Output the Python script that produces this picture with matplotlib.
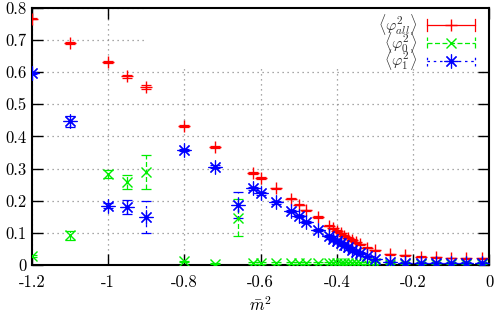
import matplotlib
matplotlib.use("Agg")
import matplotlib.pyplot as plt
from matplotlib.lines import Line2D
from matplotlib.legend_handler import HandlerBase
from matplotlib.patches import Rectangle

plt.rcParams['font.family'] = ['cmr10', 'DejaVu Serif']
plt.rcParams['mathtext.fontset'] = 'cm'
plt.rcParams['axes.unicode_minus'] = False
plt.rcParams['axes.formatter.use_mathtext'] = False

# ---- data ----
x_all = [-1.2, -1.1, -1.0, -0.95, -0.9, -0.8, -0.72, -0.62, -0.6, -0.56, -0.52, -0.5, -0.48,
         -0.45, -0.42, -0.41, -0.40, -0.39, -0.38, -0.37, -0.36, -0.35, -0.34, -0.32, -0.30,
         -0.26, -0.22, -0.18, -0.14, -0.10, -0.06, -0.02]
y_all = [0.767, 0.691, 0.631, 0.587, 0.554, 0.433, 0.368, 0.285, 0.271, 0.239, 0.206, 0.188, 0.170,
         0.149, 0.122, 0.114, 0.106, 0.099, 0.091, 0.085, 0.078, 0.071, 0.064, 0.054, 0.046,
         0.033, 0.030, 0.026, 0.024, 0.022, 0.021, 0.021]
e_all = [0.003, 0.004, 0.003, 0.004, 0.007, 0.003, 0.003, 0.003, 0.003, 0.002, 0.002, 0.002, 0.002,
         0.002, 0.002, 0.002, 0.002, 0.002, 0.002, 0.002, 0.002, 0.002, 0.002, 0.002, 0.002,
         0.001, 0.001, 0.001, 0.001, 0.001, 0.001, 0.001]

x_01 = [-1.2, -1.1, -1.0, -0.95, -0.9, -0.8, -0.72, -0.66, -0.62, -0.6, -0.56, -0.52, -0.5, -0.48,
        -0.45, -0.42, -0.41, -0.40, -0.39, -0.38, -0.37, -0.36, -0.35, -0.34, -0.32, -0.30,
        -0.26, -0.22, -0.18, -0.14, -0.10, -0.06, -0.02]
y_0 = [0.028, 0.093, 0.283, 0.258, 0.290, 0.011, 0.004, 0.147, 0.006, 0.006, 0.006, 0.006, 0.006, 0.006,
       0.006, 0.006, 0.006, 0.006, 0.006, 0.006, 0.006, 0.006, 0.006, 0.006, 0.006, 0.006,
       0.004, 0.004, 0.004, 0.004, 0.004, 0.004, 0.004]
e_0 = [0.004, 0.014, 0.012, 0.021, 0.053, 0.003, 0.002, 0.057, 0.002, 0.002, 0.002, 0.002, 0.002, 0.002,
       0.002, 0.002, 0.002, 0.002, 0.002, 0.002, 0.002, 0.002, 0.002, 0.002, 0.002, 0.002,
       0.001, 0.001, 0.001, 0.001, 0.001, 0.001, 0.001]
y_1 = [0.597, 0.447, 0.184, 0.180, 0.150, 0.358, 0.306, 0.187, 0.239, 0.223, 0.195, 0.169, 0.153, 0.135,
       0.109, 0.090, 0.082, 0.075, 0.068, 0.061, 0.055, 0.048, 0.042, 0.036, 0.027, 0.018,
       0.010, 0.007, 0.007, 0.007, 0.007, 0.007, 0.007]
e_1 = [0.004, 0.018, 0.008, 0.022, 0.050, 0.004, 0.004, 0.040, 0.005, 0.004, 0.004, 0.003, 0.003, 0.003,
       0.003, 0.003, 0.003, 0.003, 0.003, 0.003, 0.003, 0.003, 0.003, 0.003, 0.002, 0.002,
       0.001, 0.001, 0.001, 0.001, 0.001, 0.001, 0.001]

labels = [r'$\langle\varphi^2_{all}\rangle$', r'$\langle\varphi^2_0\rangle$', r'$\langle\varphi^2_1\rangle$']
xticks = [-1.2, -1.0, -0.8, -0.6, -0.4, -0.2, 0.0]
xticklabels = ['-1.2', '-1', '-0.8', '-0.6', '-0.4', '-0.2', '0']
yticks = [0, 0.1, 0.2, 0.3, 0.4, 0.5, 0.6, 0.7, 0.8]
yticklabels = ['0', '0.1', '0.2', '0.3', '0.4', '0.5', '0.6', '0.7', '0.8']

RED, GREEN, BLUE = '#ff0000', '#00ee00', '#0000ff'
AST = (8, 2, 0)

fig = plt.figure(figsize=(4.98, 3.17), dpi=100)
ax = fig.add_axes([0.0643, 0.164, 0.918, 0.811])

def eb(x, y, e, color, marker, ms, mew, ls, label):
    c = ax.errorbar(x, y, yerr=e, fmt='none', ecolor=color, elinewidth=0.9, capsize=3.5,
                    capthick=0.9, zorder=3)
    for lc in c[2]:
        lc.set_linestyle(ls)
    ax.plot(x, y, ls='none', marker=marker, ms=ms, mec=color, mfc=color, mew=mew, color=color,
            zorder=4, label=label)

eb(x_all, y_all, e_all, RED, '+', 9, 1.0, '-', labels[0])
eb(x_01, y_0, e_0, GREEN, 'x', 7, 1.0, (0, (4, 2)), labels[1])
eb(x_01, y_1, e_1, BLUE, AST, 10, 0.85, (0, (2, 3)), labels[2])

ax.set_xlim(-1.2, 0)
ax.set_ylim(0, 0.8)
ax.set_xticks(xticks)
ax.set_xticklabels(xticklabels)
ax.set_yticks(yticks)
ax.set_yticklabels(yticklabels)
ax.tick_params(direction='in', length=8, width=1.0, top=True, right=True, labelsize=12)
ax.tick_params(axis='x', pad=7)
ax.tick_params(axis='y', pad=4)
for s in ax.spines.values():
    s.set_linewidth(1.5)
ax.set_axisbelow(True)
ax.grid(True, color='#8c8c8c', linestyle=(0, (1, 3)), linewidth=0.9)
ax.add_patch(Rectangle((0.247, 0.765), 0.753, 0.235, transform=ax.transAxes,
                       facecolor='white', edgecolor='none', zorder=1))
ax.set_xlabel(r'$\bar{m}^2$', fontsize=12, labelpad=4)


class GnuHandler(HandlerBase):
    def __init__(self, color, ls, marker, ms, mew):
        super().__init__()
        self.c, self.ls, self.m, self.ms, self.mew = color, ls, marker, ms, mew

    def create_artists(self, legend, orig_handle, xdescent, ydescent, width, height,
                       fontsize, trans):
        y = height / 2 - ydescent
        x0, x1 = -xdescent, width - xdescent
        h = 4
        arts = [Line2D([x0, x1], [y, y], color=self.c, ls=self.ls, lw=0.9),
                Line2D([x0, x0], [y - h, y + h], color=self.c, lw=0.9, ls=self.ls),
                Line2D([x1, x1], [y - h, y + h], color=self.c, lw=0.9, ls=self.ls),
                Line2D([(x0 + x1) / 2], [y], ls='none', marker=self.m, ms=self.ms,
                       mec=self.c, mfc=self.c, mew=self.mew)]
        for a in arts:
            a.set_transform(trans)
        return arts


handles, labs = ax.get_legend_handles_labels()
hmap = {handles[0]: GnuHandler(RED, '-', '+', 9, 1.0),
        handles[1]: GnuHandler(GREEN, (0, (4, 2)), 'x', 7, 1.0),
        handles[2]: GnuHandler(BLUE, (0, (2, 3)), AST, 10, 0.85)}
leg = ax.legend(handles, labs, handler_map=hmap, loc='upper right', markerfirst=False,
                frameon=False, fontsize=11.5, handlelength=3.0, handletextpad=0.6,
                labelspacing=-0.45, borderaxespad=0.0, bbox_to_anchor=(0.982, 1.01))
for t in leg.get_texts():
    t.set_color('#333333')

fig.savefig('out.png', dpi=100)
